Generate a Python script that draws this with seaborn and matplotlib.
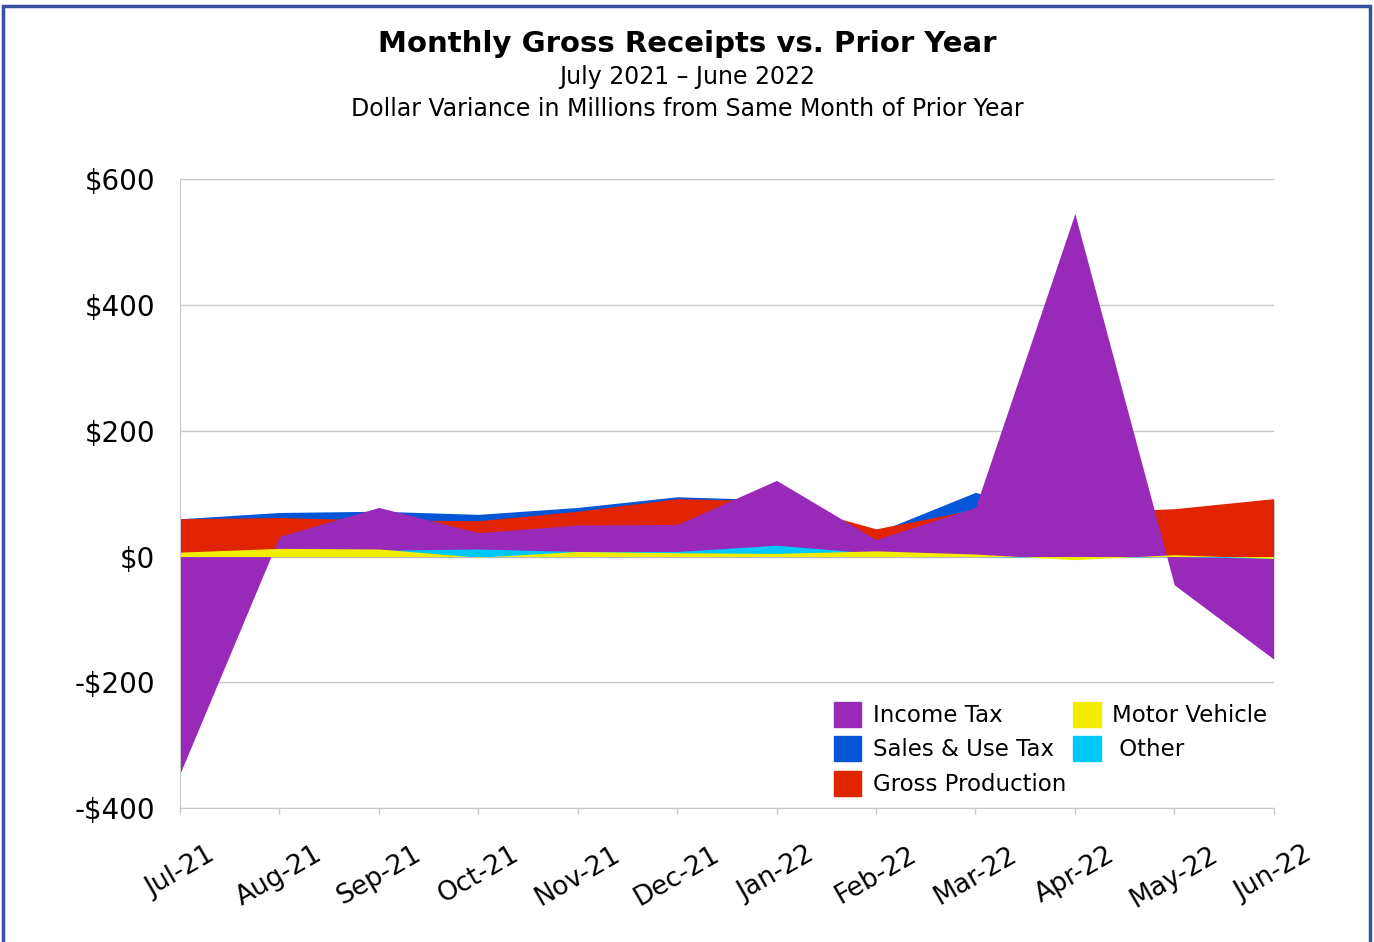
import matplotlib.pyplot as plt
import matplotlib.patches as mpatches
import seaborn as sns
import numpy as np

# donnees (millions de dollars)
mois = ["Jul-21", "Aug-21", "Sep-21", "Oct-21", "Nov-21", "Dec-21",
        "Jan-22", "Feb-22", "Mar-22", "Apr-22", "May-22", "Jun-22"]
sales_use = [60, 70, 72, 67, 78, 95, 90, 38, 102, 60, 70, 85]
gross_prod = [60, 62, 58, 57, 72, 92, 88, 44, 75, 70, 76, 92]
income_tax = [-345, 32, 78, 38, 50, 51, 121, 27, 78, 545, -45, -163]
other = [6, 10, 10, 12, 8, 8, 18, 5, 0, -2, 0, -3]
motor_vehicle = [7, 13, 12, -1, 8, 6, 5, 9, 4, -5, 3, -3]

yticks = [600, 400, 200, 0, -200, -400]
ylabels = ["$600", "$400", "$200", "$0", "-$200", "-$400"]

sns.set_style("white")
plt.rcParams['font.family'] = ['DejaVu Sans']
plt.rcParams['text.color'] = 'black'
plt.rcParams['xtick.color'] = 'black'
plt.rcParams['ytick.color'] = 'black'

couleurs = {"Income Tax": "#9829b9", "Sales & Use Tax": "#0456d6",
            "Gross Production": "#e02400", "Motor Vehicle": "#f4ec00",
            "Other": "#00c8fa"}

fig = plt.figure(figsize=(13.74, 9.42), dpi=100)
ax = fig.add_axes([0.131, 0.142, 0.796, 0.668])

x = np.arange(len(mois))
# ordre de dessin : bleu, rouge, violet, cyan, jaune
for nom, vals in [("Sales & Use Tax", sales_use), ("Gross Production", gross_prod),
                  ("Income Tax", income_tax), ("Other", other),
                  ("Motor Vehicle", motor_vehicle)]:
    ax.fill_between(x, 0, vals, color=couleurs[nom], linewidth=0)

ax.set_xlim(0, len(mois) - 1)
ax.set_ylim(-400, 600)
ax.set_yticks(yticks)
ax.set_yticklabels(ylabels, fontsize=20)
ax.set_xticks(x)
ax.set_xticklabels(mois, rotation=30, ha="center", va="top", fontsize=19)
ax.tick_params(axis="x", length=4, width=1, color="#c8c8c8", direction="out",
               bottom=True, pad=20, labelcolor="black")
ax.tick_params(axis="y", length=0, pad=18, labelcolor="black")
for t in yticks:
    ax.axhline(t, color="#c8c8c8", linewidth=1, zorder=0)
for s in ["top", "right"]:
    ax.spines[s].set_visible(False)
ax.spines["left"].set_color("#c8c8c8")
ax.spines["bottom"].set_color("#c8c8c8")

# legende
noms = ["Income Tax", "Sales & Use Tax", "Gross Production", "Motor Vehicle", "Other"]
handles = [mpatches.Patch(color=couleurs[n], label=(" " + n if n == "Other" else n))
           for n in noms]
ax.legend(handles=handles, ncol=2, loc="lower right", bbox_to_anchor=(1.013, -0.013),
          frameon=False, fontsize=16.5, handlelength=1.2, handleheight=1.3,
          columnspacing=0.3, labelspacing=0.4, handletextpad=0.5)

# titres
fig.text(0.5, 0.953, "Monthly Gross Receipts vs. Prior Year", ha="center",
         va="center", fontsize=21, fontweight="bold")
fig.text(0.5, 0.918, "July 2021 \u2013 June 2022", ha="center", va="center", fontsize=17)
fig.text(0.5, 0.884, "Dollar Variance in Millions from Same Month of Prior Year",
         ha="center", va="center", fontsize=17)

# cadre bleu
fig.patches.append(mpatches.Rectangle((0.002, -0.05), 0.995, 1.044,
                                      transform=fig.transFigure, fill=False,
                                      edgecolor="#3b4ea0", linewidth=2.5))

fig.savefig("out.png", dpi=100)
